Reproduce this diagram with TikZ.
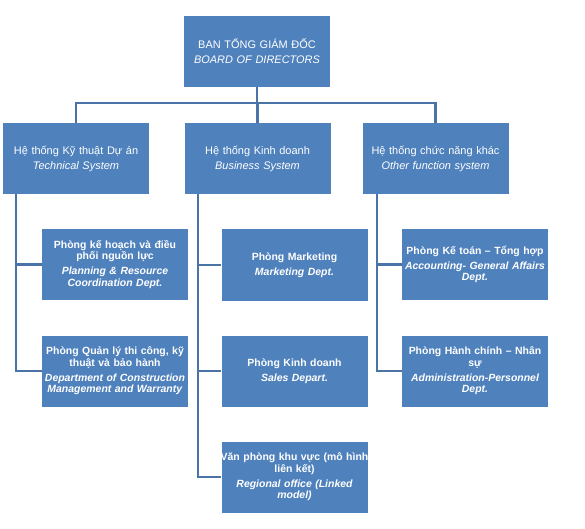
\documentclass[tikz,border=0pt]{standalone}
\usepackage{fontspec}
\setmainfont{Liberation Sans}
\definecolor{boxblue}{HTML}{4F81BD}
\definecolor{lineblue}{HTML}{4A73A8}
\tikzset{
	unit/.style={fill=boxblue,text=white,text width=142bp,inner xsep=2bp,minimum height=71bp,align=center,font=\fontsize{11}{13}\selectfont},
	dept/.style={unit,font=\fontsize{10.5}{11.5}\selectfont\bfseries},
	link/.style={draw=lineblue,line width=2.6bp}
}

\begin{document}
\begin{tikzpicture}[x=1bp,y=-1bp]
	\useasboundingbox (0,0) rectangle (585,529);
	\node[unit] (board) at (257,51.5) {BAN TỔNG GIÁM ĐỐC\\[2bp]\textit{BOARD OF DIRECTORS}};
	\node[unit] (tech) at (76,158.5) {Hệ thống Kỹ thuật Dự án\\[2bp]\textit{Technical System}};
	\node[unit] (biz) at (257.5,158.5) {Hệ thống Kinh doanh\\[2bp]\textit{Business System}};
	\node[unit] (other) at (435.5,158.5) {Hệ thống chức năng khác\\[2bp]\textit{Other function system}};

	\node[dept] (plan) at (115,264.5) {Phòng kế hoạch và  điều\\phối nguồn lực\\[3.5bp]\textit{Planning \& Resource\\Coordination Dept.}};
	\node[dept] (constr) at (115,371) {Phòng Quản lý thi công, kỹ\\thuật và bảo hành\\[3.5bp]\textit{Department of Construction\\Management and Warranty}};
	\node[dept] (mkt) at (294.5,265) {Phòng Marketing\\[3.5bp]\textit{Marketing Dept.}};
	\node[dept] (sales) at (294.5,371) {Phòng Kinh doanh\\[3.5bp]\textit{Sales Depart.}};
	\node[dept] (region) at (294.5,477) {\makebox[\linewidth]{Văn phòng khu vực (mô hình}\\liên kết)\\[3.5bp]\textit{Regional office (Linked\\model)}};
	\node[dept] (acct) at (475,264.5) {Phòng Kế toán – Tổng hợp\\[3.5bp]\textit{Accounting- General Affairs\\Dept.}};
	\node[dept] (admin) at (475,371) {Phòng Hành chính – Nhân\\sự\\[3.5bp]\textit{Administration-Personnel\\Dept.}};

	\coordinate (hub) at (257,103);
	\draw[link] (board.south) -- (hub);
	\foreach \s in {tech,biz,other}
		\draw[link] (hub) -| (\s.north);

	\coordinate (techbus) at ([xshift=13bp]tech.south west);
	\coordinate (bizbus) at ([xshift=13.5bp]biz.south west);
	\coordinate (otherbus) at ([xshift=14.5bp]other.south west);
	\foreach \d in {plan,constr}
		\draw[link] (techbus) |- (\d.west);
	\foreach \d in {mkt,sales,region}
		\draw[link] (bizbus) |- (\d.west);
	\foreach \d in {acct,admin}
		\draw[link] (otherbus) |- (\d.west);
\end{tikzpicture}
\end{document}
